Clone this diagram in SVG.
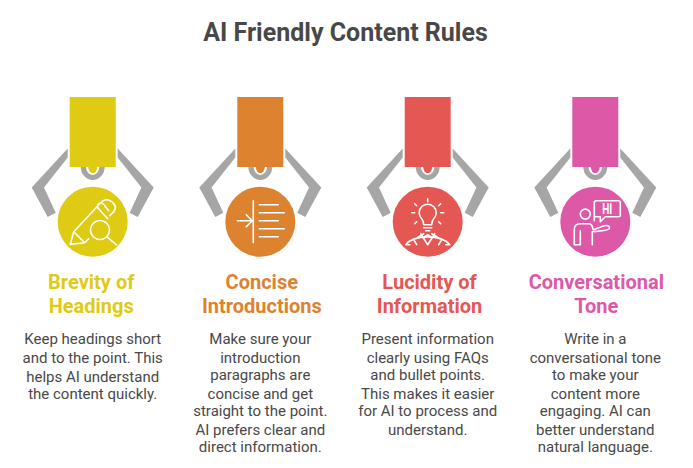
<svg xmlns="http://www.w3.org/2000/svg" width="693" height="468" viewBox="0 0 693 468">
<style>
text{font-family:Roboto,"Liberation Sans",sans-serif}
.t{font-size:25px;font-weight:700;fill:#484848;text-anchor:middle}
.h{font-size:20px;font-weight:700;text-anchor:middle}
.b{font-size:15px;fill:#484848;text-anchor:middle}
.i{fill:none;stroke:#fff;stroke-width:1.600;stroke-linecap:round;stroke-linejoin:round}
.claw{fill:#a6a6a6}
</style>
<defs>
<g id="arm">
<path class="claw" d="M-25 -73.300V-64.300L-48.700 -34.300L-37 -9L-45 -4.700L-61 -34.300Z"/>
<path class="claw" d="M25 -73.300V-64.300L48.700 -34.300L37 -9L45 -4.700L61 -34.300Z"/>
<path class="claw" d="M-12 -55a12 13.300 0 0 0 24 0h-5.300a6.700 8.300 0 0 1 -13.400 0Z"/>
</g>
</defs>
<rect width="693" height="468" fill="#fff"/>
<text class="t" x="345.500" y="41">AI Friendly Content Rules</text>
<g id="node-1" transform="translate(92.700 221.700)">
<use href="#arm"/>
<path d="M-4.500 -55a4.500 6.500 0 0 0 9 0Z" fill="#dfca14"/>
<rect x="-23" y="-124.700" width="46" height="70" fill="#dfca14"/>
<circle r="35" fill="#dfca14"/>
<path class="i" d="M-22.500 22.700L-19 10L9 -20Q14 -24 19 -20Q25 -15 21 -10L17 -6M-22.500 22.700L-8 21L-4 17M-19 10L-8 21M5 -14L15 -3M5 -17Q9 -21 12 -16L16 -11"/>
<circle class="i" cx="7.300" cy="8.300" r="9.500"/>
<path class="i" d="M14 15L24 23.300"/>
<text class="h" x="-1.500" y="67.300" fill="#dfca14">Brevity of</text>
<text class="h" x="-1.500" y="91.300" fill="#dfca14">Headings</text>
<text class="b" y="122.300">Keep headings short</text>
<text class="b" y="141.300">and to the point. This</text>
<text class="b" y="160.300">helps AI understand</text>
<text class="b" y="177.300">the content quickly.</text>
</g>
<g id="node-2" transform="translate(260.300 221.700)">
<use href="#arm"/>
<path d="M-4.500 -55a4.500 6.500 0 0 0 9 0Z" fill="#dd832f"/>
<rect x="-23" y="-124.700" width="46" height="70" fill="#dd832f"/>
<circle r="35" fill="#dd832f"/>
<path class="i" d="M-7 -21V21M-1 -17H18M-1 -9H24M-1 -1H18M-1 7H24M-1 15H18M-23 -1H-8M-14 -7L-8 -1L-14 5"/>
<text class="h" x="1.500" y="67.300" fill="#dd832f">Concise</text>
<text class="h" x="1.500" y="91.300" fill="#dd832f">Introductions</text>
<text class="b" y="122.300">Make sure your</text>
<text class="b" y="141.300">introduction</text>
<text class="b" y="158.300">paragraphs are</text>
<text class="b" y="177.300">concise and get</text>
<text class="b" y="194.300">straight to the point.</text>
<text class="b" y="213.300">AI prefers clear and</text>
<text class="b" y="230.300">direct information.</text>
</g>
<g id="node-3" transform="translate(427.700 221.700)">
<use href="#arm"/>
<path d="M-4.500 -55a4.500 6.500 0 0 0 9 0Z" fill="#e55753"/>
<rect x="-23" y="-124.700" width="46" height="70" fill="#e55753"/>
<circle r="35" fill="#e55753"/>
<path class="i" d="M-4 3Q-4 -1 -6 -3A8.500 8.500 0 1 1 6 -3Q4 -1 4 3ZM-4 6H4M-2 9H2M0 -23V-20M-13 -18L-11 -16M13 -18L11 -16M-16 -9H-13M16 -9H13M-13 2L-11 0M13 2L11 0M-22 23A24 13 0 0 1 22 23M-22 23H-18M22 23H18M-7 12L0 23L7 12M-4 12L-14 18L-11 23M4 12L14 18L11 23M-3 15L0 13L3 15"/>
<text class="h" x="1.800" y="67.300" fill="#e55753">Lucidity of</text>
<text class="h" x="1.800" y="91.300" fill="#e55753">Information</text>
<text class="b" y="122.300">Present information</text>
<text class="b" y="141.300">clearly using FAQs</text>
<text class="b" y="158.300">and bullet points.</text>
<text class="b" y="177.300">This makes it easier</text>
<text class="b" y="194.300">for AI to process and</text>
<text class="b" y="213.300">understand.</text>
</g>
<g id="node-4" transform="translate(595.300 221.700)">
<use href="#arm"/>
<path d="M-4.500 -55a4.500 6.500 0 0 0 9 0Z" fill="#dd59a8"/>
<rect x="-23" y="-124.700" width="46" height="70" fill="#dd59a8"/>
<circle r="35" fill="#dd59a8"/>
<circle class="i" cx="-10" cy="-7.600" r="5"/>
<path class="i" d="M-21 23V8Q-21 2 -15 2H-6Q-4 2 -3 5L-2 8L9 4Q15 3 14 7Q13 9 -3 10V23M-15 9V23H-21M-1 -1V-19Q-1 -21 1 -21H23Q25 -21 25 -19V-6Q25 -5 23 -5H10L5 0V-5H1Q-1 -5 -1 -7"/>
<text x="12" y="-8" font-size="14" font-weight="700" fill="#fff" text-anchor="middle" textLength="10" lengthAdjust="spacingAndGlyphs">HI</text>
<text class="h" x="1" y="67.300" fill="#dd59a8">Conversational</text>
<text class="h" x="1" y="91.300" fill="#dd59a8">Tone</text>
<text class="b" y="122.300">Write in a</text>
<text class="b" y="141.300">conversational tone</text>
<text class="b" y="158.300">to make your</text>
<text class="b" y="177.300">content more</text>
<text class="b" y="194.300">engaging. AI can</text>
<text class="b" y="213.300">better understand</text>
<text class="b" y="230.300">natural language.</text>
</g>
</svg>
